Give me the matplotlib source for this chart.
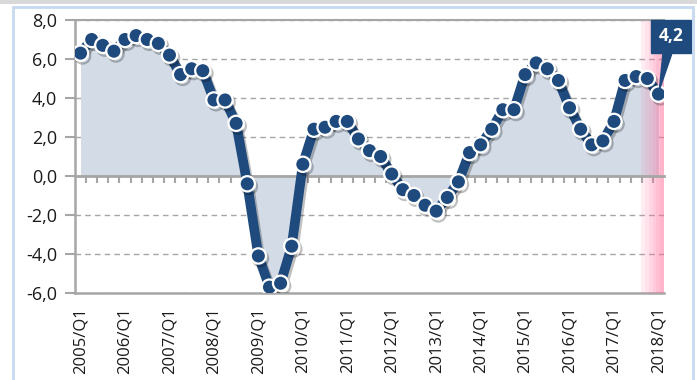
import numpy as np
import matplotlib.pyplot as plt
import matplotlib.patheffects as pe
from matplotlib.patches import Rectangle

plt.rcParams['font.family'] = ['Open Sans', 'DejaVu Sans']

# quarterly growth, 2005/Q1 .. 2018/Q1
quarters = [f"{y}/Q{q}" for y in range(2005, 2019) for q in range(1, 5)][:53]
values = [6.3, 7.0, 6.7, 6.4,
          7.0, 7.2, 7.0, 6.8,
          6.2, 5.2, 5.5, 5.4,
          3.9, 3.9, 2.7, -0.4,
          -4.1, -5.7, -5.5, -3.6,
          0.6, 2.4, 2.5, 2.8,
          2.8, 1.9, 1.3, 1.0,
          0.1, -0.7, -1.0, -1.5,
          -1.8, -1.1, -0.3, 1.2,
          1.6, 2.4, 3.4, 3.4,
          5.2, 5.8, 5.5, 4.9,
          3.5, 2.4, 1.6, 1.8,
          2.8, 4.9, 5.1, 5.0,
          4.2]
last_label = "4,2"

blue = '#1f4a7e'
grey = '#a6a6a6'

x = np.arange(len(values))
y = np.array(values)

fig = plt.figure(figsize=(6.97, 3.8), dpi=100)
fig.patches.append(Rectangle((0, 1 - 4/380), 1, 4/380, transform=fig.transFigure,
                             fc='#d9d9d9', ec='none'))
fig.patches.append(Rectangle((13.5/697, -0.05), 679/697, 1.05 - 7.5/380,
                             transform=fig.transFigure, fc='none',
                             ec='#c6d9f1', lw=2))

ax = fig.add_axes([75/697, 1 - 293/380, 589/697, 273/380])
ax.set_xlim(-0.5, len(values) - 0.5)
ax.set_ylim(-6, 8)

# area under the curve
ax.fill_between(x, y, 0, color='#d2dbe6', lw=0, zorder=1)

# highlighted last period
band_start = len(values) - 2.55
n_strips = 6
edges = np.linspace(band_start, len(values) - 0.5, n_strips + 1)
for i in range(n_strips):
    ax.axvspan(edges[i], edges[i + 1], color='#ff6f9c',
               alpha=0.12 + 0.08 * i, lw=0, zorder=2)

ax.plot(x, y, color=blue, lw=7, marker='o', ms=11, mfc=blue, mec='white',
        mew=1.6, solid_capstyle='round', zorder=4,
        path_effects=[pe.SimpleLineShadow(offset=(1.5, -2), alpha=0.25),
                      pe.Normal()])

# axes styling
ax.set_yticks(np.arange(-6, 9, 2))
ax.set_yticklabels([f"{v:.1f}".replace('.', ',') for v in np.arange(-6, 9, 2)])
ax.yaxis.grid(True, color=grey, ls=(0, (4, 3)), lw=1)
ax.set_axisbelow(True)
ax.tick_params(axis='y', length=7, width=1.5, color=grey, labelsize=13,
               pad=6, labelcolor='#1a1a1a')

ax.spines['right'].set_visible(False)
ax.spines['top'].set_color(grey)
ax.spines['top'].set_linewidth(1.5)
ax.spines['left'].set_color(grey)
ax.spines['left'].set_linewidth(1.8)
ax.spines['bottom'].set_position(('data', 0))
ax.spines['bottom'].set_color(grey)
ax.spines['bottom'].set_linewidth(2)
ax.spines['bottom'].set_zorder(3)
ax.set_xticks(np.arange(0.5, len(values) - 0.5, 1))
ax.set_xticklabels([])
ax.tick_params(axis='x', direction='out', length=5, width=1.5, color=grey)

# year labels along the bottom
sec = ax.secondary_xaxis('bottom')
year_idx = list(range(0, len(values), 4))
sec.set_xticks(year_idx)
sec.set_xticklabels([quarters[i] for i in year_idx], rotation=90,
                    fontsize=12, color='#1a1a1a')
sec.tick_params(axis='x', length=0, pad=10)
sec.spines['bottom'].set_color(grey)
sec.spines['bottom'].set_linewidth(1.8)

# callout for the latest value
ax.annotate(last_label, xy=(x[-1], y[-1]), xycoords='data',
            xytext=(1.012, 0.94), textcoords='axes fraction',
            ha='center', va='center', fontsize=12.5, fontweight='bold',
            color='white', annotation_clip=False, zorder=6,
            bbox=dict(boxstyle='square,pad=0.45', fc=blue, ec=blue),
            arrowprops=dict(arrowstyle='wedge,tail_width=0.5', fc=blue,
                            ec=blue, shrinkA=0, shrinkB=3))

fig.savefig('out.png', dpi=100)
